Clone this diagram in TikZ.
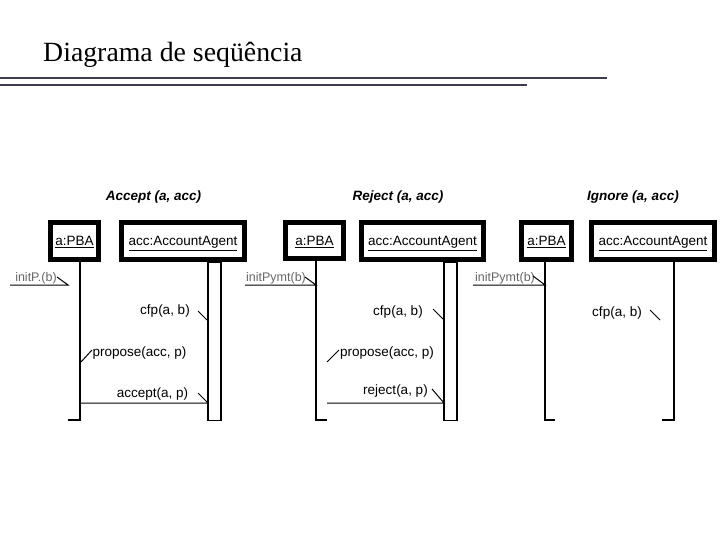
\documentclass[tikz,border=0pt]{standalone}
\usepackage{fontspec}
\setmainfont{Liberation Serif}
\newfontfamily\lsans{Liberation Sans}
\definecolor{hdrcol}{HTML}{3C3C50}
\begin{document}
\begin{tikzpicture}[x=1pt,y=-1pt,
  obj/.style={draw, line width=5pt, minimum height=37pt, inner sep=0pt,
    text height=12pt, text depth=2.3pt,
    font=\lsans\fontsize{13.5}{16}\selectfont},
  msg/.style={inner sep=0pt, font=\lsans\fontsize{13.5}{16}\selectfont},
  faint/.style={inner sep=0pt, text=black!60, font=\lsans\fontsize{12.5}{15}\selectfont},
  ttl/.style={inner sep=0pt, font=\lsans\bfseries\itshape\fontsize{13.5}{16}\selectfont},
  life/.style={line width=1.2pt},
  tickln/.style={line width=1pt},
  bar/.style={draw, line width=1.2pt, fill=white, inner sep=0pt, minimum width=13pt, minimum height=158pt, anchor=north},
  hdr/.style={line width=1.4pt, draw=hdrcol}
]
\useasboundingbox (0,0) rectangle (720,540);

% header
\node[anchor=base west, inner sep=0pt, font=\fontsize{27.8}{33}\selectfont] (title) at (43,62) {Diagrama de seqüência};
\coordinate (h1a) at (0,78); \coordinate (h1b) at (607,78);
\coordinate (h2a) at (0,85); \coordinate (h2b) at (527,85);
\draw[hdr] (h1a) -- (h1b);
\draw[hdr] (h2a) -- (h2b);

% ===== Diagram 1: Accept =====
\node[ttl] (t1) at (153.5,197) {Accept (a, acc)};
\node[bar] (bar1) at (214.5,262) {};
\node[obj, minimum width=48pt] (pba1) at (74.5,241) {\underline{a:PBA}};
\node[obj, minimum width=123pt] (acc1) at (183,241) {\underline{acc:AccountAgent}};
\coordinate (l1top) at (80,262); \coordinate (l1bot) at (80,420);
\coordinate (l1tick) at (68,420);
\draw[life] (l1top) -- (l1bot) -- (l1tick);
% initP
\node[faint] (m11) at (36,278) {initP.(b)};
\coordinate (m11s) at (10,285); \coordinate (m11e) at (68,285); \coordinate (m11h) at (57,277);
\draw[tickln] (m11s) -- (m11e) -- (m11h);
% cfp
\node[msg] (m12) at (165,311) {cfp(a, b)};
\coordinate (m12a) at (198,311); \coordinate (m12b) at (208,321);
\draw[tickln] (m12a) -- (m12b);
% propose
\node[msg] (m13) at (139.5,353) {propose(acc, p)};
\coordinate (m13a) at (81,362); \coordinate (m13b) at (92,350);
\draw[tickln] (m13a) -- (m13b);
% accept
\node[msg] (m14) at (152.5,394) {accept(a, p)};
\coordinate (m14s) at (80,403); \coordinate (m14e) at (208,403); \coordinate (m14h) at (198,393);
\draw[tickln] (m14s) -- (m14e) -- (m14h);

% ===== Diagram 2: Reject =====
\node[ttl] (t2) at (398,197) {Reject (a, acc)};
\node[bar] (bar2) at (450.5,262) {};
\node[obj, minimum width=58pt, minimum height=36pt] (pba2) at (314.5,240.5) {\underline{a:PBA}};
\node[obj, minimum width=122pt] (acc2) at (422.5,241) {\underline{acc:AccountAgent}};
\coordinate (l2top) at (316,261); \coordinate (l2bot) at (316,420);
\coordinate (l2tick) at (327,420);
\draw[life] (l2top) -- (l2bot) -- (l2tick);
% initPymt
\node[faint] (m21) at (276,278) {initPymt(b)};
\coordinate (m21s) at (245,285); \coordinate (m21e) at (316,285); \coordinate (m21h) at (305,277);
\draw[tickln] (m21s) -- (m21e) -- (m21h);
% cfp
\node[msg] (m22) at (398,312) {cfp(a, b)};
\coordinate (m22a) at (433,309); \coordinate (m22b) at (443,319);
\draw[tickln] (m22a) -- (m22b);
% propose
\node[msg] (m23) at (387,353) {propose(acc, p)};
\coordinate (m23a) at (327,362); \coordinate (m23b) at (339,350);
\draw[tickln] (m23a) -- (m23b);
% reject
\node[msg] (m24) at (395.5,391) {reject(a, p)};
\coordinate (m24s) at (327,403); \coordinate (m24e) at (444,403); \coordinate (m24h) at (432,389);
\draw[tickln] (m24s) -- (m24e) -- (m24h);

% ===== Diagram 3: Ignore =====
\node[ttl] (t3) at (633,197) {Ignore (a, acc)};
\node[obj, minimum width=50pt] (pba3) at (546.5,241) {\underline{a:PBA}};
\node[obj, minimum width=123pt] (acc3) at (653,241) {\underline{acc:AccountAgent}};
\coordinate (l3top) at (545,262); \coordinate (l3bot) at (545,420);
\coordinate (l3tick) at (555,420);
\draw[life] (l3top) -- (l3bot) -- (l3tick);
\coordinate (l4top) at (674,262); \coordinate (l4bot) at (674,420);
\coordinate (l4tick) at (662,420);
\draw[life] (l4top) -- (l4bot) -- (l4tick);
% initPymt
\node[faint] (m31) at (505,278) {initPymt(b)};
\coordinate (m31s) at (473,285); \coordinate (m31e) at (545,285); \coordinate (m31h) at (533,276);
\draw[tickln] (m31s) -- (m31e) -- (m31h);
% cfp
\node[msg] (m32) at (617,313) {cfp(a, b)};
\coordinate (m32a) at (650,310); \coordinate (m32b) at (660,320);
\draw[tickln] (m32a) -- (m32b);
\end{tikzpicture}
\end{document}
